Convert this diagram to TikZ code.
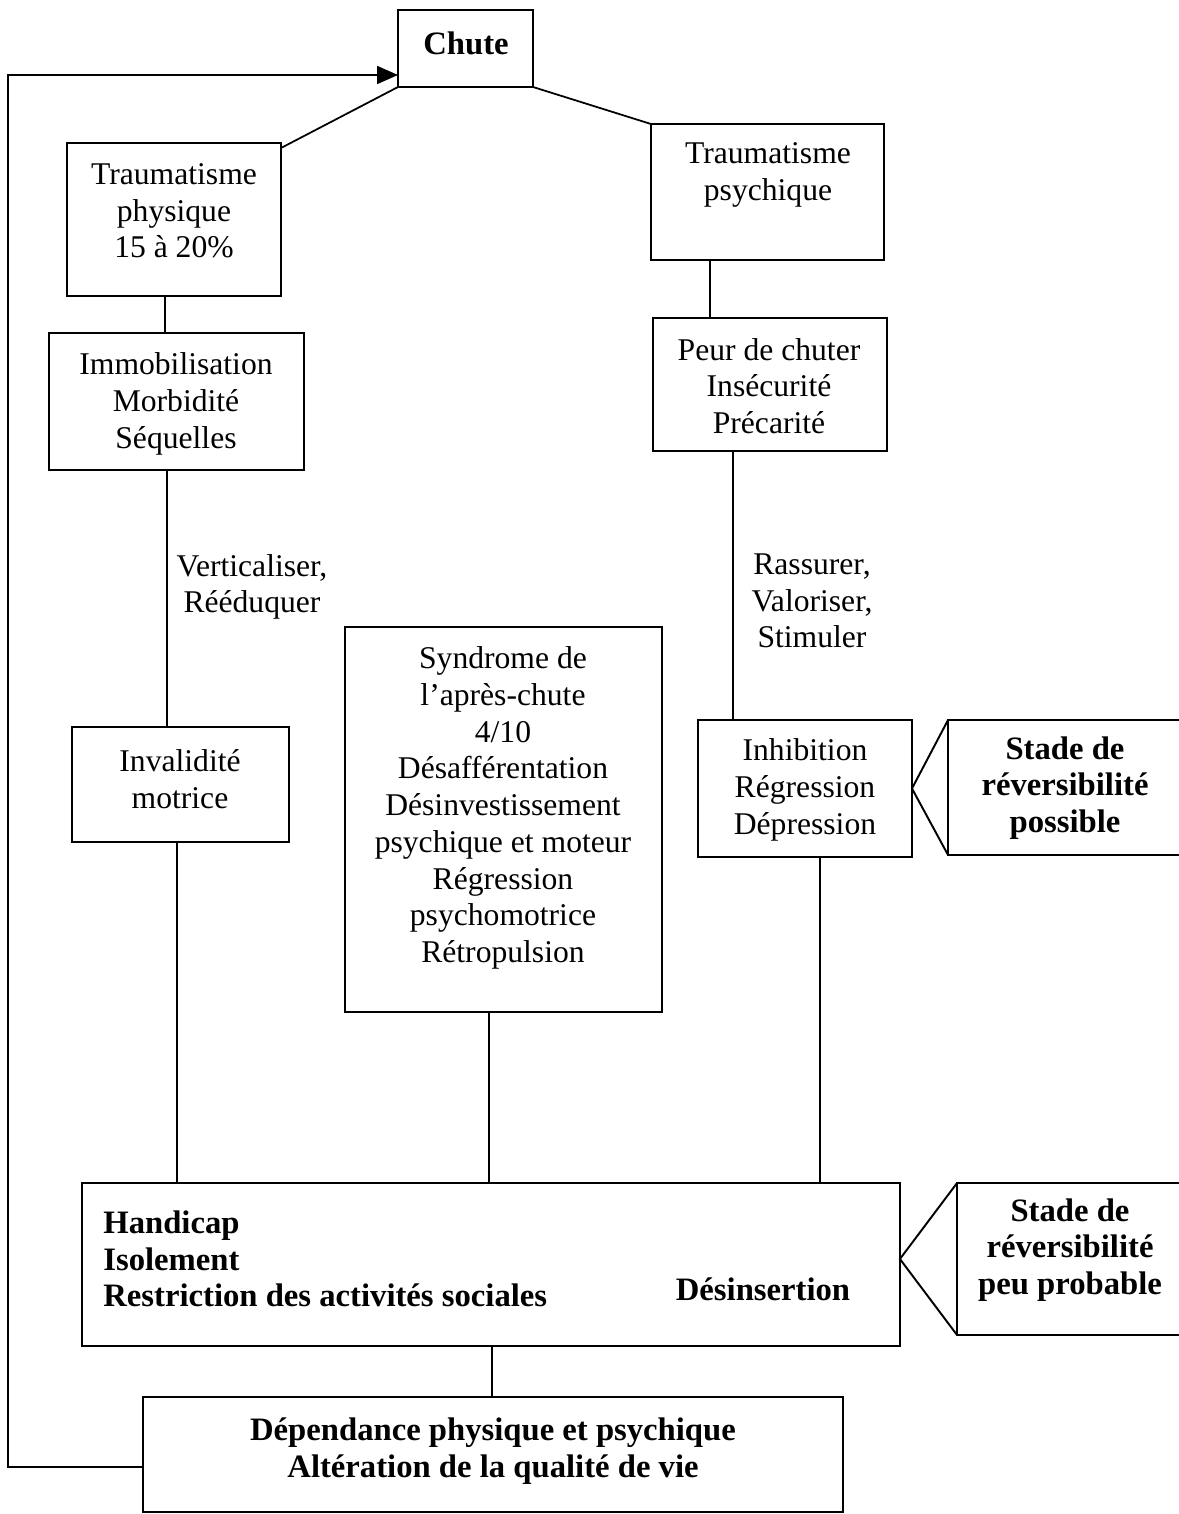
\documentclass[tikz,border=0pt]{standalone}
\usepackage{fontspec}
\setmainfont{Liberation Serif}
\usetikzlibrary{arrows.meta,calc}
\begin{document}
\begin{tikzpicture}[x=0.02cm,y=-0.02cm,
  box/.style={draw,line width=1.1pt,inner sep=0pt,outer sep=0pt,rectangle},
  txt/.style={inner sep=0pt,align=center,font=\fontsize{18}{20.9}\selectfont},
  btxt/.style={inner sep=0pt,align=center,font=\fontsize{18.6}{20.9}\selectfont\bfseries},
  conn/.style={line width=1pt},
  arr/.style={line width=1pt,-{Triangle[length=0.42cm,width=0.36cm]}}]
\useasboundingbox (0,0) rectangle (1179,1514);
\clip (0,0) rectangle (1179,1514);
% boxes
\node[box,minimum width=2.7cm,minimum height=1.54cm] (chute) at (465.5,48.5) {};
\node[box,minimum width=4.28cm,minimum height=3.06cm] (tphys) at (174,219.5) {};
\node[box,minimum width=4.66cm,minimum height=2.72cm] (tpsy) at (767.5,192) {};
\node[box,minimum width=5.1cm,minimum height=2.74cm] (immob) at (176.5,401.5) {};
\node[box,minimum width=4.68cm,minimum height=2.66cm] (peur) at (770,384.5) {};
\node[box,minimum width=4.34cm,minimum height=2.3cm] (inval) at (180.5,784.5) {};
\node[box,minimum width=4.28cm,minimum height=2.74cm] (inhib) at (805,788.5) {};
\node[box,minimum width=6.34cm,minimum height=7.7cm] (synd) at (503.5,819.5) {};
\node[box,minimum width=16.36cm,minimum height=3.26cm] (handi) at (491,1264.5) {};
\node[box,minimum width=14.0cm,minimum height=2.3cm] (dep) at (493,1454.5) {};
\node[box,minimum width=5.04cm,minimum height=2.7cm] (call1) at (1074,787.5) {};
\node[box,minimum width=4.86cm,minimum height=3.04cm] (call2) at (1078.5,1259) {};
% texts
\node[btxt] (chutet) at (466,43) {Chute};
\node[txt] (tphyst) at (174,211) {Traumatisme\\physique\\15 à 20\%};
\node[txt] (tpsyt) at (768,175) {Traumatisme\\psychique};
\node[txt] (immobt) at (176,404) {Immobilisation\\Morbidité\\Séquelles};
\node[txt] (peurt) at (769,386) {Peur de chuter\\Insécurité\\Précarité};
\node[txt] (vert) at (252,587) {Verticaliser,\\Rééduquer};
\node[txt] (inv) at (180,779) {Invalidité\\motrice};
\node[txt] (rass) at (812,601) {Rassurer,\\Valoriser,\\Stimuler};
\node[txt] (inhibt) at (805,790) {Inhibition\\Régression\\Dépression};
\node[btxt] (call1t) at (1065,788) {Stade de\\réversibilité\\possible};
\node[txt] (syndt) at (503,808) {Syndrome de\\l’après-chute\\4/10\\Désafférentation\\Désinvestissement\\psychique et moteur\\Régression\\psychomotrice\\Rétropulsion};
\node[btxt,anchor=west,align=left] (handit) at (103,1259) {Handicap\\Isolement\\Restriction des activités sociales};
\node[btxt] (desins) at (763,1289) {Désinsertion};
\node[btxt] (call2t) at (1070,1250) {Stade de\\réversibilité\\peu probable};
\node[btxt] (dept) at (493,1451) {Dépendance physique et psychique\\Altération de la qualité de vie};
% x-guides
\coordinate (cA) at (165,0);
\coordinate (cB) at (710,0);
\coordinate (cC) at (167,0);
\coordinate (cD) at (733,0);
\coordinate (cE) at (177,0);
\coordinate (cF) at (489,0);
\coordinate (cG) at (820,0);
\coordinate (cH) at (492,0);
\coordinate (lb) at (8,1467);
\coordinate (lt) at (8,75);
% connectors
\draw[conn] ($(tphys.north east)+(0,5)$) -- (chute.south west);
\draw[conn] (chute.south east) -- (tpsy.north west);
\draw[conn] (tphys.south -| cA) -- (immob.north -| cA);
\draw[conn] (tpsy.south -| cB) -- (peur.north -| cB);
\draw[conn] (immob.south -| cC) -- (inval.north -| cC);
\draw[conn] (peur.south -| cD) -- (inhib.north -| cD);
\draw[conn] (inval.south -| cE) -- (handi.north -| cE);
\draw[conn] (synd.south -| cF) -- (handi.north -| cF);
\draw[conn] (inhib.south -| cG) -- (handi.north -| cG);
\draw[conn] (handi.south -| cH) -- (dep.north -| cH);
\draw[arr] (dep.west |- lb) -- (lb) -- (lt) -- (chute.west |- lt);
% callout pointers
\draw[line width=1.1pt] (call1.north west) -- (inhib.east) -- (call1.south west);
\draw[line width=1.1pt] (call2.north west) -- (handi.east |- call2.west) -- (call2.south west);
\end{tikzpicture}
\end{document}
